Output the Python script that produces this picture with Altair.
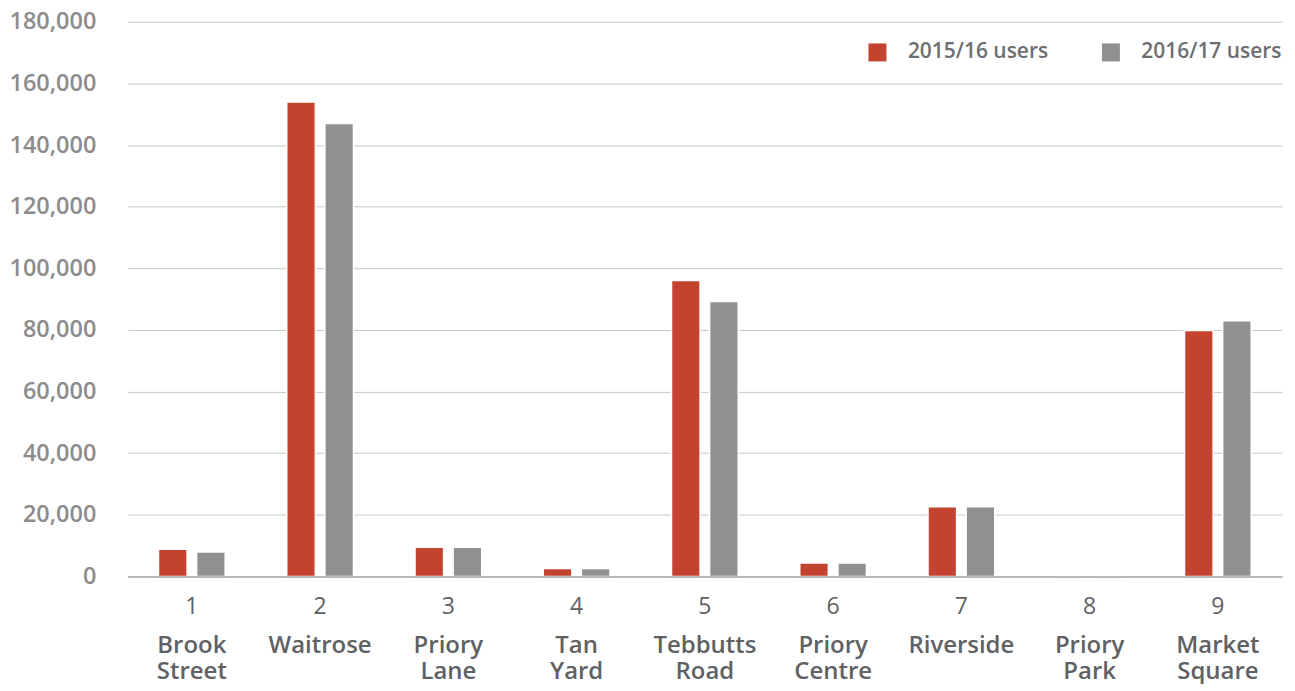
import altair as alt
import pandas as pd

sites = ["1", "2", "3", "4", "5", "6", "7", "8", "9"]
names = ["Brook Street", "Waitrose", "Priory Lane", "Tan Yard", "Tebbutts Road",
         "Priory Centre", "Riverside", "Priory Park", "Market Square"]
users_1516 = [8800, 154000, 9500, 2600, 96000, 4400, 22600, 0, 79800]
users_1617 = [7900, 147000, 9500, 2600, 89200, 4400, 22600, 0, 83000]
series = ["2015/16 users", "2016/17 users"]
colors = ["#C3432E", "#8F9092"]

rows = []
for s, n, a, b in zip(sites, names, users_1516, users_1617):
    key = f"{s}|{n}"
    rows.append({"key": key, "series": series[0], "users": a})
    rows.append({"key": key, "series": series[1], "users": b})
df = pd.DataFrame(rows)
order = [f"{s}|{n}" for s, n in zip(sites, names)]

FONT = "Open Sans"

xscale = alt.Scale(paddingInner=0.48, paddingOuter=0.24)
yscale = alt.Scale(domain=[0, 180000])

base = alt.Chart(df)

bars = base.mark_bar(stroke="white", strokeWidth=1.5).encode(
    x=alt.X("key:N", sort=order, scale=xscale, title=None,
            axis=alt.Axis(orient="bottom", labelExpr="split(datum.label, '|')[0]", labelAngle=0,
                          labelFontSize=23, labelFont=FONT, labelFontWeight="normal",
                          labelColor="#606163", labelPadding=19, ticks=False,
                          domain=True, domainColor="#A6A6A6", domainWidth=1.5,
                          grid=False, zindex=1)),
    xOffset=alt.XOffset("series:N", scale=alt.Scale(paddingInner=0.25)),
    y=alt.Y("users:Q", scale=yscale, title=None,
            axis=alt.Axis(values=list(range(0, 180001, 20000)), format=",d",
                          labelFontSize=23.5, labelFont=FONT, labelFontWeight=600,
                          labelColor="#8C8C8C", labelPadding=32, ticks=False,
                          domain=False, gridColor="#C8C8C8", gridWidth=1)),
    color=alt.Color("series:N", scale=alt.Scale(domain=series, range=colors),
                    legend=alt.Legend(title=None, orient="none", direction="horizontal",
                                      legendX=741, legendY=20, symbolType="square",
                                      symbolSize=324, symbolStrokeWidth=0,
                                      labelFontSize=21, labelFont=FONT, labelFontWeight=600,
                                      labelColor="#6D6E70", labelOffset=20,
                                      columnPadding=52)),
)

names_layer = base.mark_point(opacity=0).encode(
    x=alt.X("key:N", sort=order, scale=xscale, title=None,
            axis=alt.Axis(orient="bottom",
                          labelExpr="split(split(datum.label, '|')[1], ' ')", labelAngle=0,
                          labelFontSize=24, labelFont=FONT, labelFontWeight=600,
                          labelColor="#606163", labelPadding=57, labelLineHeight=26,
                          ticks=False, domain=False, grid=False)),
)

chart = alt.layer(bars, names_layer).resolve_axis(x="independent").properties(
    width=1157, height=556,
    padding={"left": 0, "top": 1, "right": 5, "bottom": 0},
).configure_view(stroke=None).configure_axis(labelFont=FONT)

chart.save("out.html", embed_options={"renderer": "svg", "actions": False})
